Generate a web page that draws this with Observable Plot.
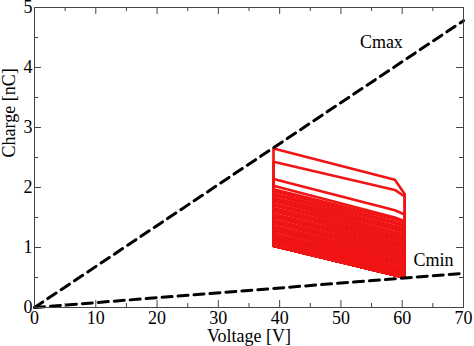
<!DOCTYPE html>
<html><head><meta charset="utf-8">
<script src="https://cdn.jsdelivr.net/npm/d3@7"></script>
<script src="https://cdn.jsdelivr.net/npm/@observablehq/plot@0.6"></script>
<style>body{margin:0;background:#fff}</style>
</head><body><div id="chart"></div>
<script>
const xMajor = [0, 10, 20, 30, 40, 50, 60, 70];
const xMinor = [5, 15, 25, 35, 45, 55, 65];
const yMajor = [0, 1, 2, 3, 4, 5];
const yMinor = [0.5, 1.5, 2.5, 3.5, 4.5];
const cmaxV = [0, 70], cmaxQ = [0, 4.78];
const cminV = [0, 70], cminQ = [0, 0.57];
const lineLabels = ["Cmax", "Cmin"], labelV = [56.6, 65.1], labelQ = [4.42, 0.78];
// loop vertices: voltages of left edge, bend and right edge
const loopV = [39, 58.8, 60.4];
const loopBottomQ = [1.03, 0.5]; // bottom edge (left, right)
const qLeft  = [2.65,2.43,2.14,2.03,1.97,1.94,1.90,1.87,1.83,1.80,1.77,1.73,1.70,1.66,1.63,1.60,1.56,1.53,1.50,1.46,1.43,1.40,1.36,1.33,1.30,1.27,1.23,1.20,1.17,1.14,1.11,1.08];
const qBend  = [2.13,1.96,1.62,1.50,1.47,1.43,1.40,1.36,1.33,1.30,1.26,1.23,1.19,1.16,1.13,1.09,1.06,1.03,0.99,0.96,0.93,0.89,0.86,0.83,0.79,0.76,0.73,0.69,0.66,0.63,0.60,0.57];
const qRight = [1.89,1.85,1.55,1.44,1.42,1.38,1.35,1.31,1.28,1.25,1.21,1.18,1.14,1.11,1.08,1.04,1.01,0.98,0.94,0.91,0.88,0.84,0.81,0.78,0.74,0.71,0.68,0.64,0.61,0.58,0.55,0.52];

const loops = [];
qLeft.forEach((q, i) => {
  const pts = [
    [loopV[0], loopBottomQ[0]], [loopV[0], q], [loopV[1], qBend[i]],
    [loopV[2], qRight[i]], [loopV[2], loopBottomQ[1]], [loopV[0], loopBottomQ[0]]
  ];
  pts.forEach(([v, c]) => loops.push({loop: i, v, q: c}));
});
const cmax = cmaxV.map((v, i) => ({v, q: cmaxQ[i]}));
const cmin = cminV.map((v, i) => ({v, q: cminQ[i]}));
const labels = lineLabels.map((t, i) => ({t, v: labelV[i], q: labelQ[i]}));

const plot = Plot.plot({
  width: 474, height: 346,
  marginLeft: 34, marginRight: 11, marginTop: 7, marginBottom: 39,
  style: {fontFamily: "'Liberation Serif', 'Times New Roman', serif", fontSize: "18px", color: "#000", background: "#fff"},
  x: {domain: [0, 70]},
  y: {domain: [0, 5]},
  marks: [
    Plot.line(loops, {x: "v", y: "q", z: "loop", stroke: "#f01414", strokeWidth: 2.6, strokeLinejoin: "round"}),
    Plot.line(cmax, {x: "v", y: "q", stroke: "#000", strokeWidth: 3, strokeDasharray: "10,6"}),
    Plot.line(cmin, {x: "v", y: "q", stroke: "#000", strokeWidth: 3, strokeDasharray: "10,6"}),
    Plot.text(labels, {x: "v", y: "q", text: "t", fontSize: 18, fill: "#000"}),
    Plot.frame({stroke: "#444", strokeWidth: 1}),
    Plot.tickX(xMajor, {x: d => d, insetTop: 293, stroke: "#444"}),
    Plot.tickX(xMinor, {x: d => d, insetTop: 296, stroke: "#444"}),
    Plot.tickX(xMajor, {x: d => d, insetBottom: 293, stroke: "#444"}),
    Plot.tickX(xMinor, {x: d => d, insetBottom: 296, stroke: "#444"}),
    Plot.tickY(yMajor, {y: d => d, insetRight: 422, stroke: "#444"}),
    Plot.tickY(yMinor, {y: d => d, insetRight: 425, stroke: "#444"}),
    Plot.tickY(yMajor, {y: d => d, insetLeft: 422, stroke: "#444"}),
    Plot.tickY(yMinor, {y: d => d, insetLeft: 425, stroke: "#444"}),
    Plot.axisX({ticks: xMajor, tickSize: 0, tickPadding: 4, label: null, fontSize: 18, tickFormat: d3.format("d")}),
    Plot.axisY({ticks: yMajor, tickSize: 0, tickPadding: 2, label: null, fontSize: 18, tickFormat: d3.format("d")}),
    Plot.text(["Voltage [V]"], {frameAnchor: "bottom", dy: 29, lineAnchor: "middle", text: d => d, fontSize: 18, fill: "#000"}),
    Plot.text(["Charge [nC]"], {frameAnchor: "left", dx: -25, rotate: -90, lineAnchor: "middle", text: d => d, fontSize: 18, fill: "#000"})
  ]
});
document.getElementById("chart").appendChild(plot);
</script>
</body></html>
